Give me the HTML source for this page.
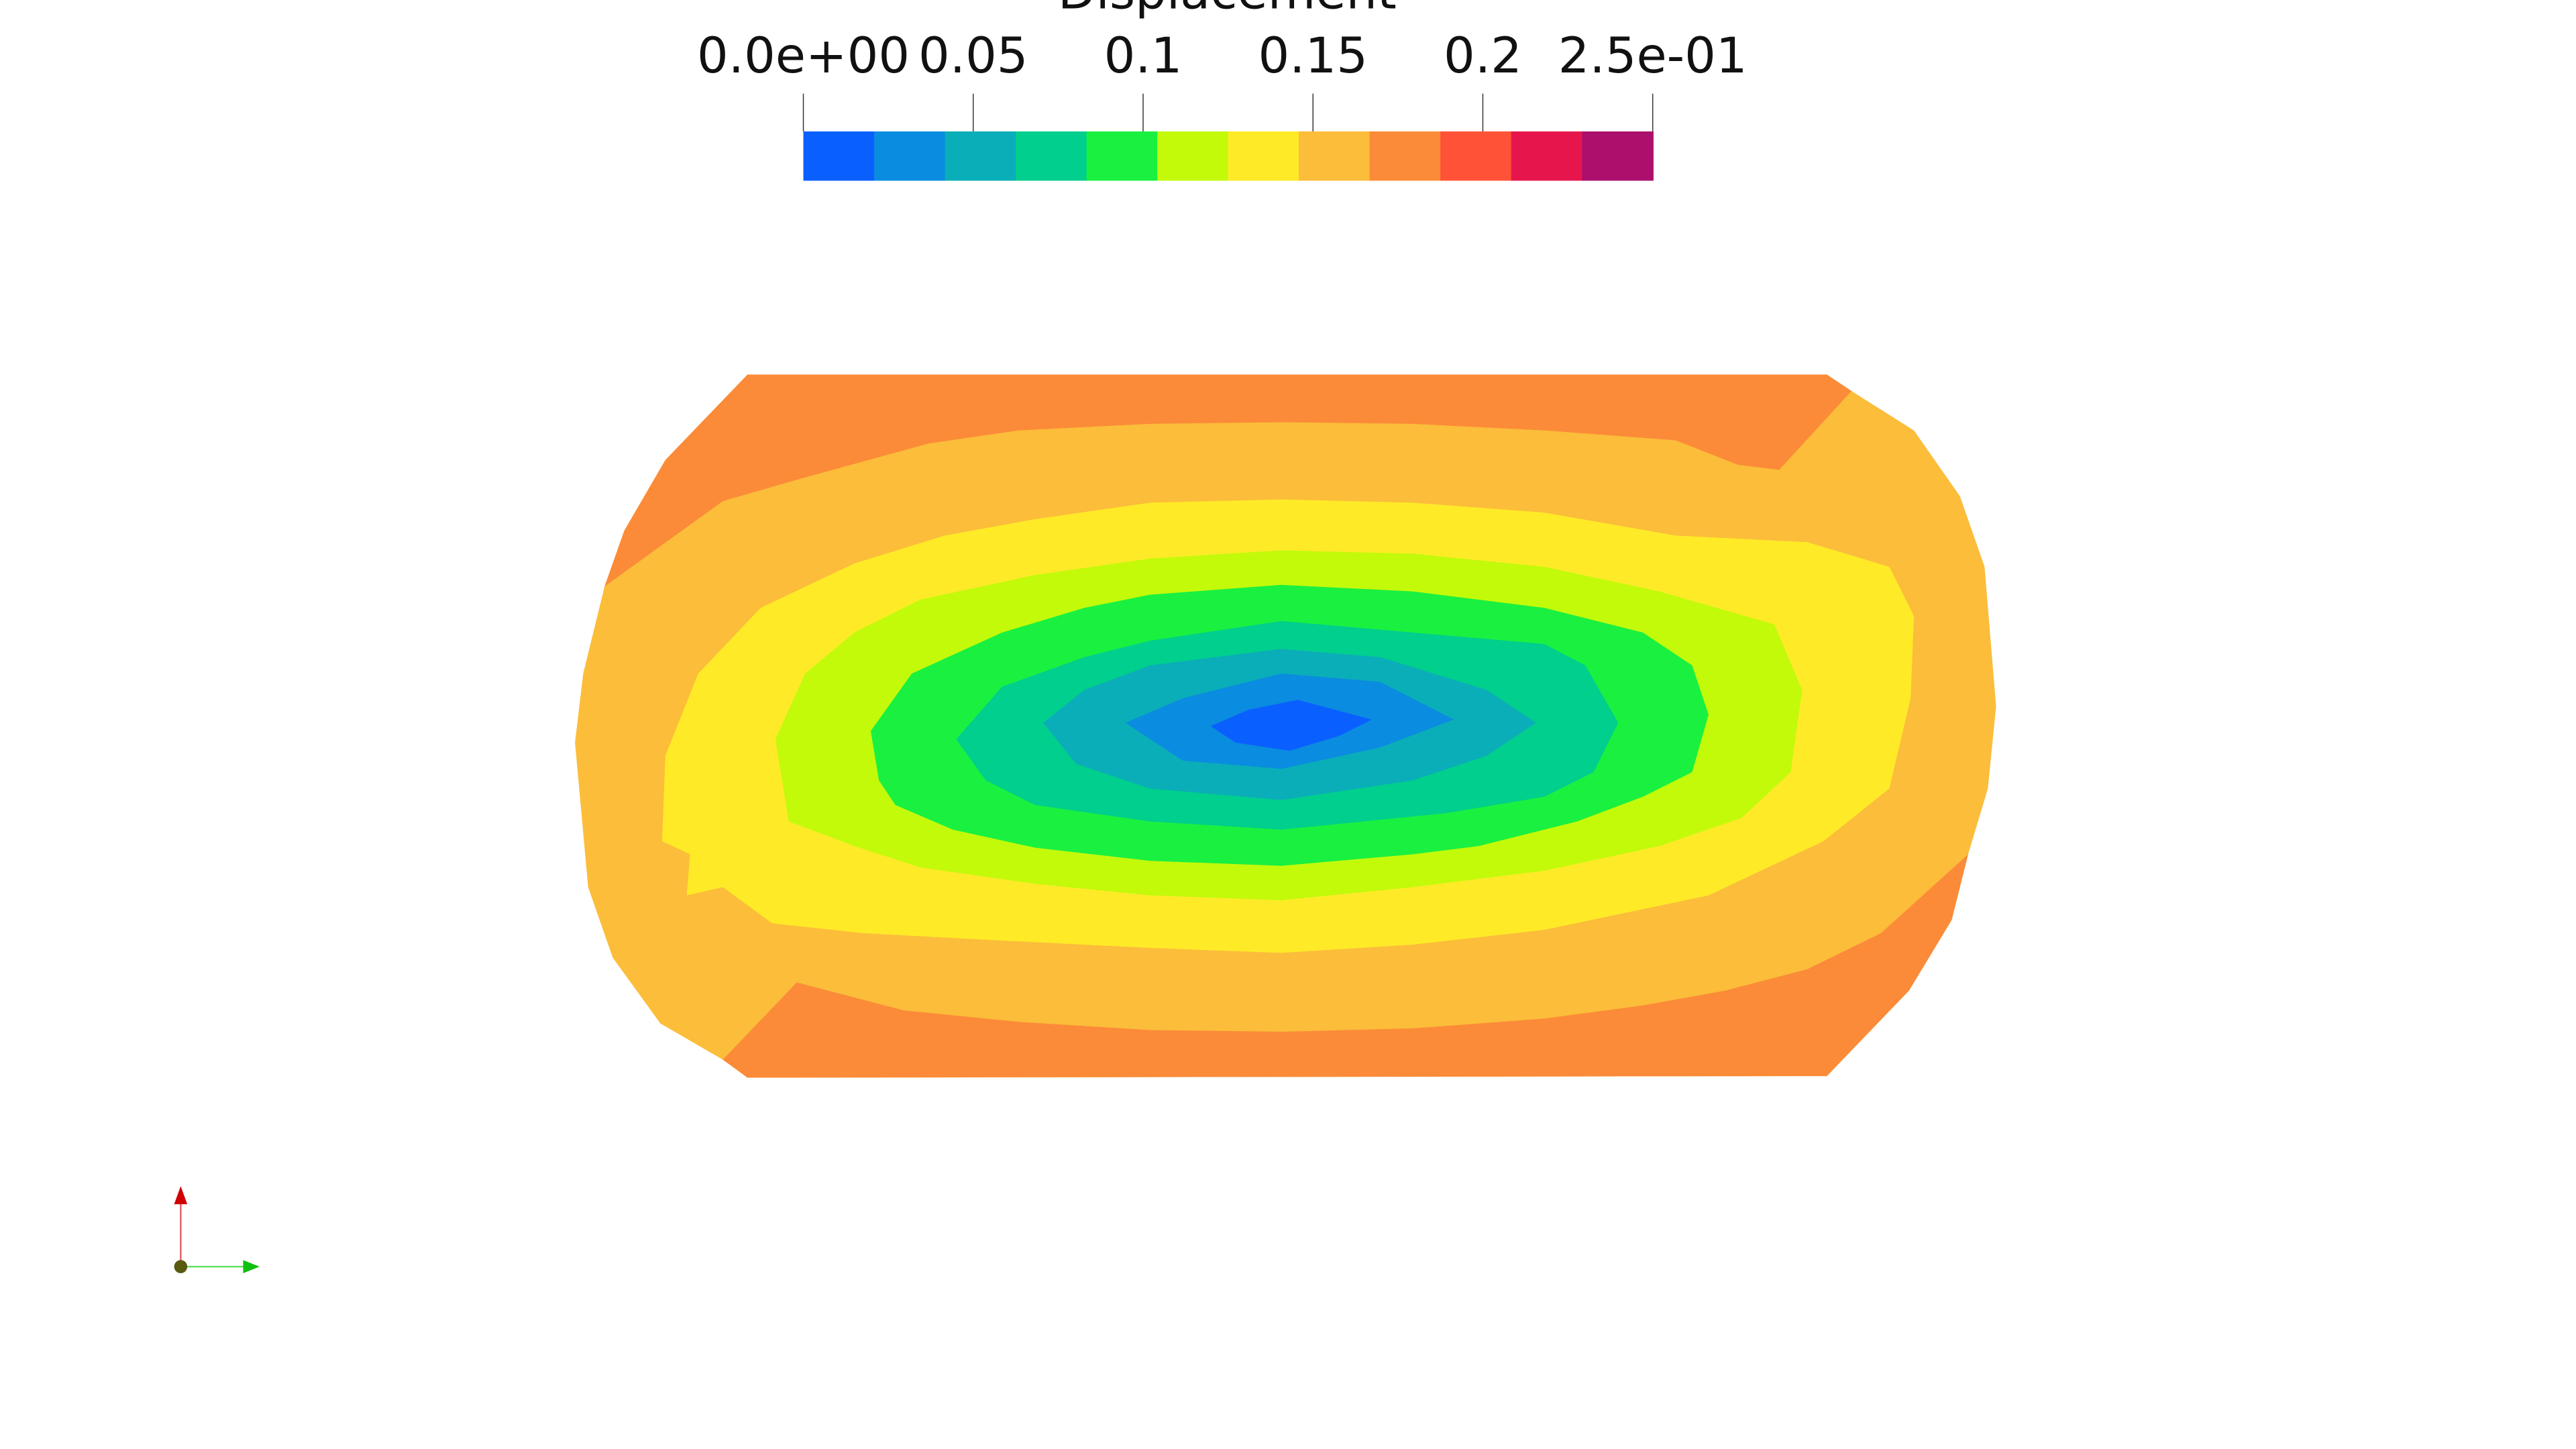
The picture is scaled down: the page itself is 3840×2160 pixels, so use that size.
<!DOCTYPE html>
<html><head><meta charset="utf-8"><style>
html,body{margin:0;padding:0;background:#fff;}
svg{display:block;}
text{font-family:"DejaVu Sans","Liberation Sans",sans-serif;fill:#111;}
</style></head><body>
<svg id="chart" width="3840" height="2160" viewBox="0 0 1568 882" xmlns="http://www.w3.org/2000/svg">
<g id="bar"></g>
<g id="plot"></g>
<g>
<line x1="110" y1="771" x2="110" y2="730" stroke="#e06060" stroke-width="1"/>
<polygon points="106,733 114,733 110,722" fill="#d00000"/>
<line x1="110" y1="771" x2="150" y2="771" stroke="#60e060" stroke-width="1"/>
<polygon points="148,767 148,775 158,771" fill="#10c010"/>
<circle cx="110" cy="771" r="4" fill="#5a5a10"/>
</g>
</svg>
<script>
const colors=["#0a5fff","#0a8ce0","#0aaeb8","#00cf8d","#1af040","#c3fa0a","#ffea28","#fbbd3a","#fb8b38","#ff5236","#e6164c","#ac0f6c"];
const tickValues=[0,0.05,0.1,0.15,0.2,0.25];
const tickLabels=["0.0e+00","0.05","0.1","0.15","0.2","2.5e-01"];
const rangeMin=0, rangeMax=0.25;
const contourFills=["#fbbd3a","#fb8b38","#fb8b38","#ffea28","#c3fa0a","#1af040","#00cf8d","#0aaeb8","#0a8ce0","#0a5fff"];
const contourNames=["region-0.15-0.175","region-top-0.175","region-bottom-0.175","region-0.125-0.15","region-0.1-0.125","region-0.075-0.1","region-0.05-0.075","region-0.025-0.05","region-0.01-0.025","region-0-0.01"];
const contourPolys=[
[[455,228],[1112,228],[1127,238],[1165,262],[1193,302],[1208,345],[1215,430],[1210,480],[1198,520],[1188,560],[1162,603],[1112,655],[455,656],[440,645],[402,623],[373,583],[358,540],[350,452],[355,410],[368,357],[380,323],[405,280]],
[[455,228],[1112,228],[1127,238],[1083,286],[1058,283],[1020,268],[940,262],[860,258],[780,257],[700,258],[620,262],[565,270],[485,292],[440,305],[368,357],[380,323],[405,280]],
[[1198,520],[1188,560],[1162,603],[1112,655],[455,656],[440,645],[485,598],[550,615],[620,622],[700,627],[780,628],[860,626],[940,620],[1000,612],[1050,603],[1100,590],[1145,568]],
[[425,410],[463,370],[520,343],[575,326],[630,316],[700,306],[780,304],[860,306],[940,312],[1020,326],[1100,330],[1150,345],[1165,375],[1163,425],[1150,480],[1110,512],[1040,545],[940,566],[860,575],[780,580],[700,577],[600,572],[525,568],[470,562],[440,540],[418,545],[420,520],[403,512],[405,460]],
[[472,450],[490,410],[520,385],[560,365],[630,350],[700,340],[780,335],[860,337],[940,345],[1010,360],[1080,380],[1097,420],[1090,470],[1060,498],[1010,515],[940,530],[860,540],[780,548],[700,545],[630,538],[560,528],[520,515],[480,500]],
[[530,445],[555,410],[610,385],[660,370],[700,362],[780,356],[860,360],[940,370],[1000,385],[1030,405],[1040,435],[1030,470],[1000,485],[960,500],[900,515],[860,520],[780,527],[700,524],[630,516],[580,505],[545,490],[535,475]],
[[582,450],[610,418],[660,400],[700,390],[780,378],[860,385],[940,392],[965,405],[985,440],[970,470],[940,485],[880,495],[780,505],[700,500],[630,490],[600,475]],
[[635,440],[660,420],[700,405],[780,395],[840,400],[905,420],[935,440],[905,460],[860,475],[780,487],[700,480],[655,465]],
[[685,440],[720,425],[780,410],[840,415],[885,438],[840,455],[780,468],[720,463]],
[[737,442],[760,432],[790,426],[835,438],[815,448],[785,457],[752,452]]
];
const NS="http://www.w3.org/2000/svg";
const barX0=489, barX1=1006, barY=80, barH=30;
function xScale(v){return barX0+(v-rangeMin)/(rangeMax-rangeMin)*(barX1-barX0);}
const bar=document.getElementById('bar');
const bw=(barX1-barX0)/colors.length;
colors.forEach((c,i)=>{
  const r=document.createElementNS(NS,'rect');
  r.setAttribute('x',barX0+i*bw);r.setAttribute('y',barY);
  r.setAttribute('width',bw+0.5);r.setAttribute('height',barH);r.setAttribute('fill',c);
  
  
  bar.appendChild(r);
});
tickValues.forEach((v,i)=>{
  const x=xScale(v);
  const l=document.createElementNS(NS,'line');
  l.setAttribute('x1',x);l.setAttribute('x2',x);l.setAttribute('y1',57);l.setAttribute('y2',barY);
  l.setAttribute('stroke','#333');l.setAttribute('stroke-width','0.6');
  
  
  bar.appendChild(l);
  const t=document.createElementNS(NS,'text');
  t.setAttribute('x',x);t.setAttribute('y',44);t.setAttribute('font-size','30');
  t.setAttribute('text-anchor',i===0?'middle':(i===tickValues.length-1?'middle':'middle'));
  t.textContent=tickLabels[i];
  
  
  bar.appendChild(t);
});
const title=document.createElementNS(NS,'text');
title.setAttribute('x',747);title.setAttribute('y',5);title.setAttribute('font-size','30');title.setAttribute('text-anchor','middle');
title.textContent='Displacement';


bar.appendChild(title);
const plot=document.getElementById('plot');
contourPolys.forEach((p,i)=>{
  const pg=document.createElementNS(NS,'polygon');
  pg.setAttribute('points',p.map(q=>q.join(',')).join(' '));
  pg.setAttribute('fill',contourFills[i]);
  
  
  plot.appendChild(pg);
});
</script>
</body></html>
